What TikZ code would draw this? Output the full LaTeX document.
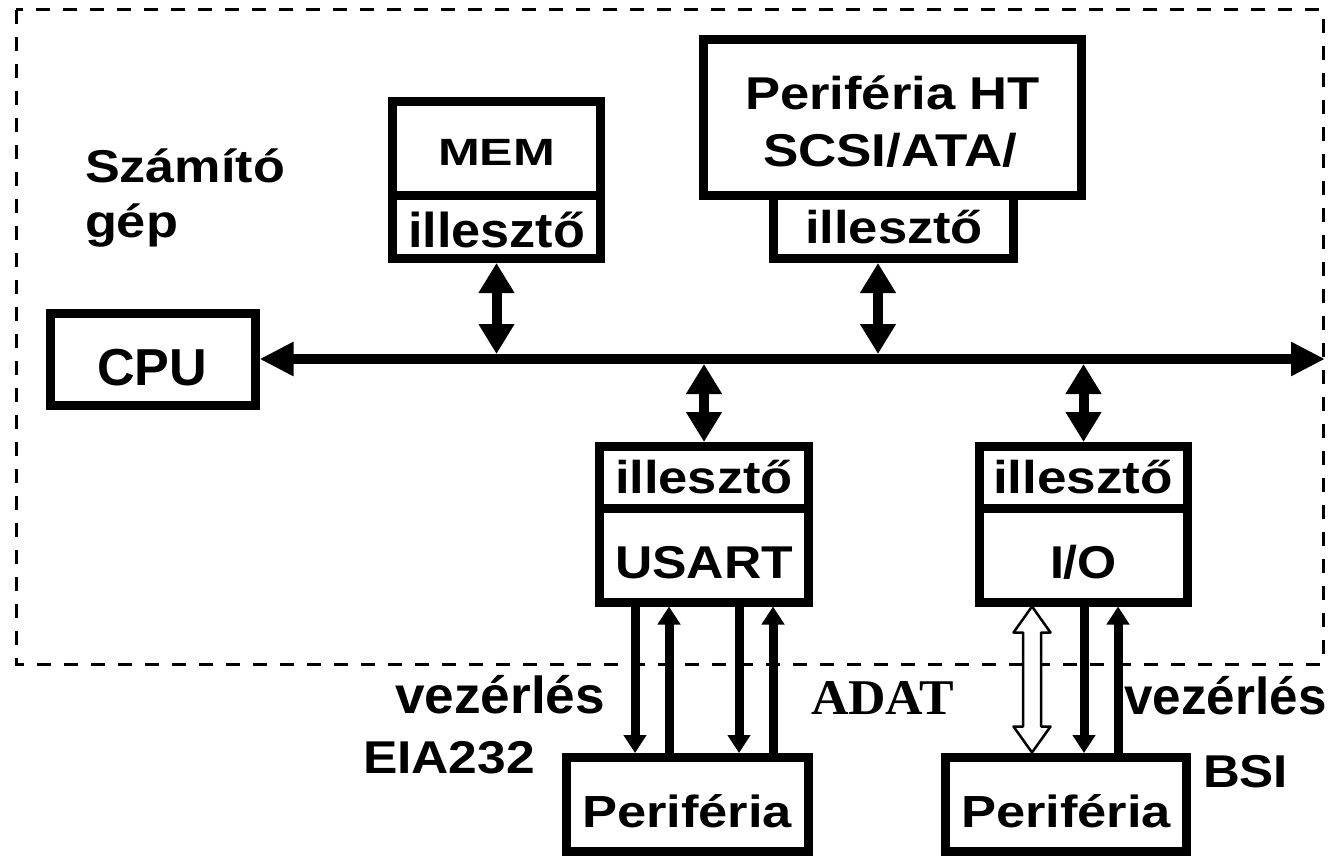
\documentclass[tikz,border=0pt]{standalone}
\usepackage{fontspec}
\usepackage{graphicx}
\setmainfont{Liberation Sans}
\newfontfamily\serifbf{Liberation Serif}
\usetikzlibrary{arrows.meta,calc}
\newcommand{\tx}[3]{\fontsize{#1}{#1}\selectfont\bfseries\resizebox{#2}{\height}{#3}}
\newcommand{\txs}[3]{\fontsize{#1}{#1}\selectfont\serifbf\bfseries\resizebox{#2}{\height}{#3}}
\begin{document}
\begin{tikzpicture}[x=1pt,y=-1pt,
  box/.style={draw, line width=9pt, inner sep=0pt},
  lbl/.style={inner sep=0pt, outer sep=0pt, anchor=base west},
  dashbox/.style={line width=3pt, dash pattern=on 14pt off 13pt},
  busline/.style={line width=10pt, {Triangle[length=34pt,width=32pt]}-{Triangle[length=34pt,width=32pt]}},
  conn/.style={line width=10pt, {Triangle[length=30pt,width=34pt]}-{Triangle[length=30pt,width=34pt]}},
  sig/.style={line width=9pt, -{Triangle[length=18pt,width=22pt]}},
  hollow/.style={line width=2.5pt, fill=white, line join=round}
]
\useasboundingbox (0,0) rectangle (1336,856);

% dashed frame
\draw[dashbox] (16,10) rectangle (1323,664);

% boxes
\node[box, minimum width=205pt, minimum height=92pt] (cpu) at (152.5,359) {};
\node[box, minimum width=208pt, minimum height=93.5pt] (memtop) at (496.5,148.25) {};
\node[box, minimum width=208pt, minimum height=63.5pt] (memil) at (496.5,226.75) {};
\node[box, minimum width=378pt, minimum height=155.5pt] (httop) at (892.5,117.25) {};
\node[box, minimum width=240pt, minimum height=63.5pt] (htil) at (893.5,226.75) {};
\node[box, minimum width=209pt, minimum height=61.5pt] (usil) at (704,477.25) {};
\node[box, minimum width=209pt, minimum height=94pt] (usart) at (704,555) {};
\node[box, minimum width=208pt, minimum height=61.5pt] (ioil) at (1083.5,477.25) {};
\node[box, minimum width=208pt, minimum height=94pt] (io) at (1083.5,555) {};
\node[box, minimum width=242pt, minimum height=93.5pt] (perl) at (687.5,804.25) {};
\node[box, minimum width=240.5pt, minimum height=93.5pt] (perr) at (1066,804.25) {};

% labels
\node[lbl] (t1) at (85,182) {\tx{46pt}{200pt}{Számító}};
\node[lbl] (t2) at (85,237) {\tx{46pt}{93pt}{gép}};
\node[lbl] (tcpu) at (97,385) {\tx{52pt}{110pt}{CPU}};
\node[lbl] (tmem) at (438,165) {\tx{38pt}{117pt}{MEM}};
\node[lbl] (tmemil) at (408,247) {\tx{49pt}{177pt}{illesztő}};
\node[lbl] (tht1) at (745,110) {\tx{46pt}{295pt}{Periféria HT}};
\node[lbl] (tht2) at (763,167) {\tx{46pt}{254pt}{SCSI/ATA/}};
\node[lbl] (thtil) at (805,243) {\tx{46pt}{178pt}{illesztő}};
\node[lbl] (tusil) at (615,493) {\tx{46pt}{178pt}{illesztő}};
\node[lbl] (tusart) at (615,578) {\tx{46pt}{178pt}{USART}};
\node[lbl] (tioil) at (993,493) {\tx{46pt}{180pt}{illesztő}};
\node[lbl] (tio) at (1050,578) {\tx{46pt}{67pt}{I/O}};
\node[lbl] (tperl) at (582,827) {\tx{45pt}{210pt}{Periféria}};
\node[lbl] (tperr) at (961,827) {\tx{45pt}{210pt}{Periféria}};
\node[lbl] (tvezl) at (395,713) {\tx{52pt}{210pt}{vezérlés}};
\node[lbl] (teia) at (363,773) {\tx{46pt}{172pt}{EIA232}};
\node[lbl] (tadat) at (811,714) {\txs{50pt}{143pt}{ADAT}};
\node[lbl] (tvezr) at (1124.5,714) {\tx{52pt}{202pt}{vezérlés}};
\node[lbl] (tbsi) at (1203,787) {\tx{46pt}{85pt}{BSI}};

% bus
\coordinate (busend) at (1325,359);
\draw[busline] (cpu.east) -- (busend);

% bus connectors
\coordinate (bm) at (496.5,354);
\coordinate (bh) at (878,354);
\coordinate (bu) at (704,364);
\coordinate (bi) at (1083.5,364);
\draw[conn] (memil.south) -- (bm);
\draw[conn] (htil.south -| bh) -- (bh);
\draw[conn] (bu) -- (usil.north);
\draw[conn] (bi) -- (ioil.north);

% signal lines
\coordinate (u1) at (635,0);
\coordinate (u2) at (669,0);
\coordinate (u3) at (739,0);
\coordinate (u4) at (773,0);
\coordinate (i1) at (1032,0);
\coordinate (i2) at (1084,0);
\coordinate (i3) at (1118,0);
\draw[sig] (usart.south -| u1) -- (perl.north -| u1);
\draw[sig] (perl.north -| u2) -- (usart.south -| u2);
\draw[sig] (usart.south -| u3) -- (perl.north -| u3);
\draw[sig] (perl.north -| u4) -- (usart.south -| u4);
\draw[sig] (io.south -| i2) -- (perr.north -| i2);
\draw[sig] (perr.north -| i3) -- (io.south -| i3);

% hollow bidirectional data arrow
\draw[hollow] (io.south -| i1) -- ++(18.5,26) -- ++(-9.5,0) -- ++(0,94) -- ++(9.5,0)
  -- ++(-18.5,26) -- ++(-18.5,-26) -- ++(9.5,0) -- ++(0,-94) -- ++(-9.5,0) -- cycle;
\end{tikzpicture}
\end{document}
